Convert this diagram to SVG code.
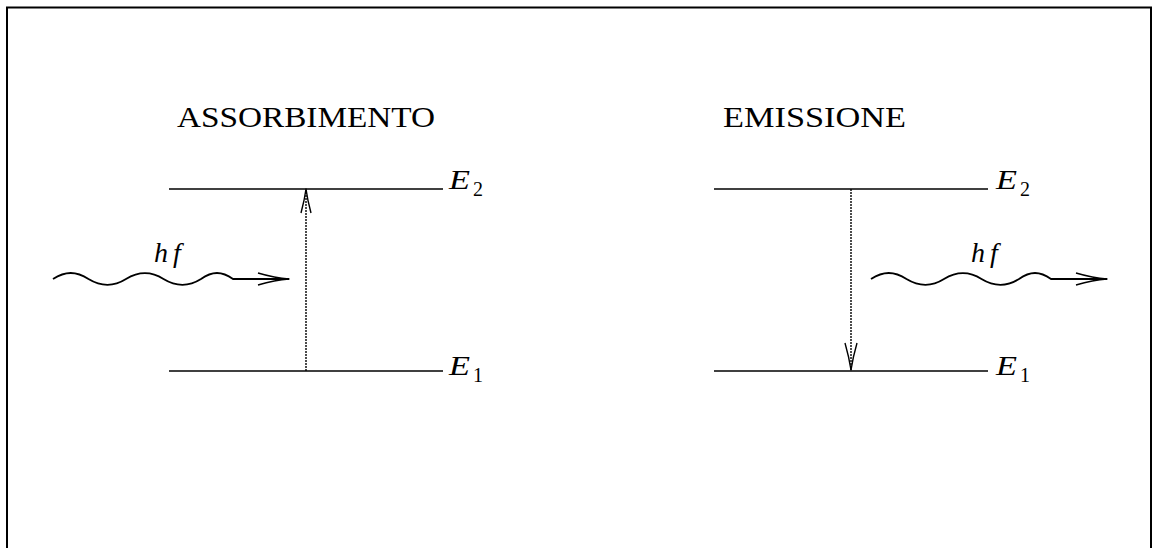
<svg xmlns="http://www.w3.org/2000/svg" width="1152" height="548" viewBox="0 0 1152 548">
<style>
.frame{fill:none;stroke:#000;stroke-width:2}
.lvl{stroke:#000;stroke-width:1.4;fill:none}
.tr{stroke:#000;stroke-width:1.4;stroke-dasharray:2 1;fill:none}
.head{stroke:#000;stroke-width:1.4;fill:none;stroke-linejoin:round}
.wave{stroke:#000;stroke-width:1.8;fill:none}
.title{font-family:"Liberation Serif",serif;font-size:30px;fill:#000}
.math{font-family:"Liberation Serif",serif;font-style:italic;font-size:28px;fill:#000}
.hf{letter-spacing:5px}
.sub{font-family:"Liberation Serif",serif;font-size:20px;fill:#000}
</style>
<defs>
<g id="wavearrow">
<path class="wave" d="M53,279 C65.4,271 76.1,271 88.5,279 C101.6,287 113.4,287 126,279 C139.1,271 150.9,271 163.5,279 C176.6,287 188.4,287 201,279 C212.2,271 221.8,271 233,279 L289,279"/>
<path class="head" d="M258,273 Q275,278 289,279 Q275,280 258,285"/>
</g>
</defs>
<rect class="frame" x="7" y="7.5" width="1144" height="600"/>
<g id="absorption">
<text class="title" x="177" y="127" textLength="258" lengthAdjust="spacingAndGlyphs">ASSORBIMENTO</text>
<g id="abs-E2"><line class="lvl" x1="169" y1="189" x2="443" y2="189"/><text class="math" x="449" y="189" textLength="21" lengthAdjust="spacingAndGlyphs">E</text><text class="sub" x="473" y="196">2</text></g>
<g id="abs-E1"><line class="lvl" x1="169" y1="371" x2="443" y2="371"/><text class="math" x="449" y="375" textLength="21" lengthAdjust="spacingAndGlyphs">E</text><text class="sub" x="473" y="382">1</text></g>
<g id="abs-photon"><use href="#wavearrow"/><text class="math hf" x="154" y="262">hf</text></g>
</g>
<g id="emission">
<text class="title" x="723" y="127" textLength="183" lengthAdjust="spacingAndGlyphs">EMISSIONE</text>
<g id="em-E2"><line class="lvl" x1="714" y1="189" x2="988" y2="189"/><text class="math" x="996" y="189" textLength="21" lengthAdjust="spacingAndGlyphs">E</text><text class="sub" x="1020" y="196">2</text></g>
<g id="em-E1"><line class="lvl" x1="714" y1="371" x2="988" y2="371"/><text class="math" x="996" y="375" textLength="21" lengthAdjust="spacingAndGlyphs">E</text><text class="sub" x="1020" y="382">1</text></g>
<g id="em-photon"><use href="#wavearrow" transform="translate(818,0)"/><text class="math hf" x="971" y="262">hf</text></g>
</g>
<g id="connectors">
<line class="tr" x1="306" y1="371" x2="306" y2="190"/>
<path class="head" d="M301,213 Q304.5,200 306,189 Q307.5,200 311,213"/>
<line class="tr" x1="851" y1="189" x2="851" y2="370"/>
<path class="head" d="M845,343 Q849,357 851,370 Q853,357 857,343"/>
</g>
</svg>
